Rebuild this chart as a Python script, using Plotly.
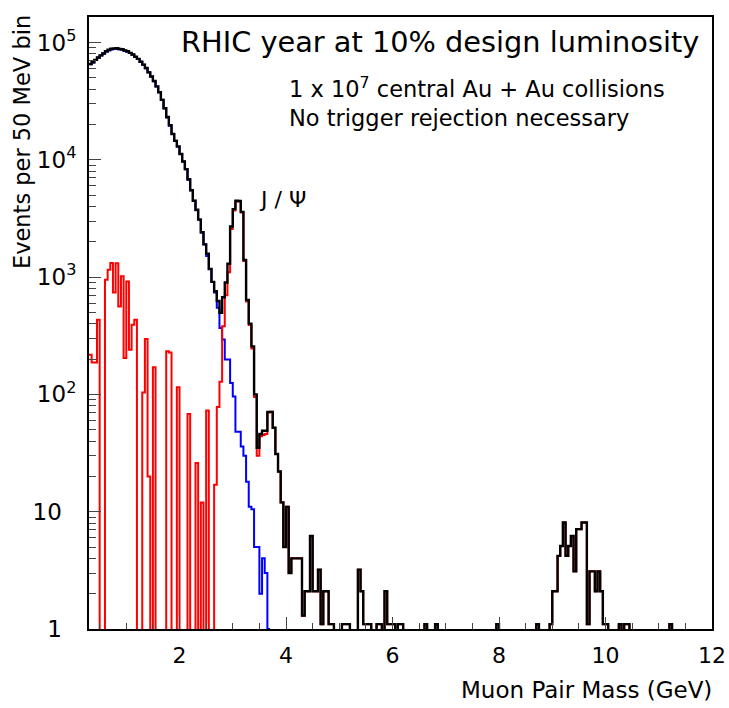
import numpy as np
import plotly.graph_objects as go

# binning: 50 MeV bins starting at 0.3 GeV
mass_lo = 0.3
bin_width = 0.05
n_bins = 234

# continuum background (blue), bins 0..67
blue_counts = [
    65300, 67600, 70800, 74100, 77600, 80400, 83200, 85500, 87100, 88100,
    88100, 87500, 86500, 85100, 83200, 81300, 78500, 75300, 72400, 68400,
    64600, 60300, 55600, 51300, 46800, 42200, 37600, 32400, 27500, 22900,
    19500, 16600, 14500, 12900, 11200, 9660, 8320, 6760, 5500, 4470,
    3720, 3090, 2400, 1900, 1510, 1170, 910, 740, 548, 368,
    293, 198, 198, 125, 96, 48, 48, 36, 30, 18,
    11, 10.5, 5, 5, 2, 4, 3, 1,
]

# resonance signal (red), dense part bins 0..99
red_counts = [
    218, 187, 187, 433, 0, 0, 950, 1157, 1320, 740,
    1310, 562, 1014, 204, 919, 240, 393, 433, 0, 0,
    104, 297, 20, 0, 170, 0, 0, 0, 0, 233,
    228, 0, 0, 115, 0, 0, 0, 68, 0, 0,
    26, 0, 12, 0, 73, 0, 0, 17, 78, 128,
    380, 700, 1100, 2575, 3700, 4430, 4400, 3560, 1370, 620,
    390, 246, 95, 30, 44, 45, 46, 70, 71, 52,
    31, 22, 12, 5, 11, 3, 4, 4, 4, 4,
    1.3, 2.1, 2.1, 6.2, 2.1, 2.1, 3.2, 1.1, 2.1, 2.1,
    1.1, 1.1, 0, 0, 0, 1.1, 1.1, 1.1, 0, 0,
]

# sparse high-mass tail (bin centres in GeV)
tail_mass = [5.375, 5.425, 5.475, 5.525, 5.575, 5.725, 5.775, 5.875, 5.925, 5.975,
             6.025, 6.125, 6.175, 6.625, 6.825, 7.975, 8.725, 8.975, 9.025, 9.075,
             9.125, 9.175, 9.225, 9.275, 9.325, 9.375, 9.425, 9.475, 9.525, 9.575,
             9.625, 9.675, 9.725, 9.775, 9.825, 9.875, 9.925, 9.975, 10.025, 10.275,
             10.375, 10.425, 11.225]
tail_counts = [3.2, 2.1, 1.1, 1.1, 1.1, 1.1, 1.1, 2.1, 1.1, 1.1,
               1.1, 1.1, 1.1, 1.1, 1.1, 1.1, 1.1, 1.1, 2.1, 2.1,
               4.2, 5.1, 8.1, 4.2, 5.1, 6.2, 3.1, 7.1, 7.1, 8.1,
               8.1, 1.1, 3.1, 3.1, 2.1, 3.1, 2.1, 1.1, 1.1, 1.1,
               1.1, 1.1, 1.1]

# fill full histograms
edges = mass_lo + bin_width * np.arange(n_bins + 1)
blue = np.zeros(n_bins)
blue[:len(blue_counts)] = blue_counts
red = np.zeros(n_bins)
red[:len(red_counts)] = red_counts
for m, c in zip(tail_mass, tail_counts):
    red[int(round((m - mass_lo) / bin_width - 0.5))] = c
total = blue + red


def step(vals, n=None):
    v = np.asarray(vals[:n] if n else vals, dtype=float)
    v = np.where(v > 0, v, 1e-3)
    return edges[:len(v) + 1], np.append(v, v[-1])


fig = go.Figure()
x, y = step(blue, len(blue_counts))
fig.add_trace(go.Scatter(x=x, y=y, mode='lines', line=dict(color='#0000ff', width=2, shape='hv')))
x, y = step(red)
fig.add_trace(go.Scatter(x=x, y=y, mode='lines', line=dict(color='#ff0000', width=2, shape='hv')))
x, y = step(total)
fig.add_trace(go.Scatter(x=x, y=y, mode='lines', line=dict(color='#000000', width=2.4, shape='hv')))

font = 'DejaVu Sans'
minor_y = [m * 10 ** d for d in range(5) for m in range(2, 10)]
nb = '\u00a0'

fig.update_layout(
    width=729, height=708,
    margin=dict(l=89, r=17, t=17, b=79),
    plot_bgcolor='white', paper_bgcolor='white',
    showlegend=False,
    font=dict(family=font, color='black'),
    xaxis=dict(range=[0.3, 12], showline=True, mirror=True, linecolor='black', linewidth=2,
               showgrid=False, zeroline=False, ticks='inside', ticklen=12, tickwidth=1,
               tick0=0, dtick=2, tickfont=dict(size=22), ticklabelstandoff=6, automargin=False,
               minor=dict(ticks='inside', ticklen=6, dtick=0.5, tick0=0, showgrid=False)),
    yaxis=dict(type='log', range=[0, 5.217], showline=True, mirror=True, linecolor='black', linewidth=2,
               showgrid=False, zeroline=False, ticks='inside', ticklen=12, tickwidth=1,
               tickvals=[1, 10, 100, 1000, 1e4, 1e5],
               ticktext=['1' + nb * 2, '10' + nb * 2, '10<sup>2</sup>', '10<sup>3</sup>',
                         '10<sup>4</sup>', '10<sup>5</sup>'],
               tickfont=dict(size=23), ticklabelstandoff=6, automargin=False,
               minor=dict(ticks='inside', ticklen=7, tickvals=minor_y, showgrid=False)),
)

fig.add_annotation(text='RHIC year at 10% design luminosity', xref='paper', yref='paper',
                   x=0.983, y=0.959, xanchor='right', yanchor='middle', showarrow=False,
                   font=dict(size=28.8))
fig.add_annotation(text='1 x 10<sup>7</sup> central Au + Au collisions', xref='paper', yref='paper',
                   x=0.318, y=0.884, xanchor='left', yanchor='middle', showarrow=False,
                   font=dict(size=22.5))
fig.add_annotation(text='No trigger rejection necessary', xref='paper', yref='paper',
                   x=0.318, y=0.835, xanchor='left', yanchor='middle', showarrow=False,
                   font=dict(size=22.5))
fig.add_annotation(text='J / Ψ', xref='paper', yref='paper',
                   x=0.270, y=0.701, xanchor='left', yanchor='middle', showarrow=False,
                   font=dict(size=22))
fig.add_annotation(text='Muon Pair Mass (GeV)', xref='paper', yref='paper',
                   x=1.004, y=-0.0997, xanchor='right', yanchor='middle', showarrow=False,
                   font=dict(size=23))
fig.add_annotation(text='Events per 50 MeV bin', xref='paper', yref='paper', textangle=-90,
                   x=-0.1075, y=1.0065, xanchor='center', yanchor='top', showarrow=False,
                   font=dict(size=22.5))

# drop the default 8px body margin so the figure fills the window
fig.write_html('out.html', config={'displayModeBar': False},
               post_script="document.body.style.margin='0px';")
